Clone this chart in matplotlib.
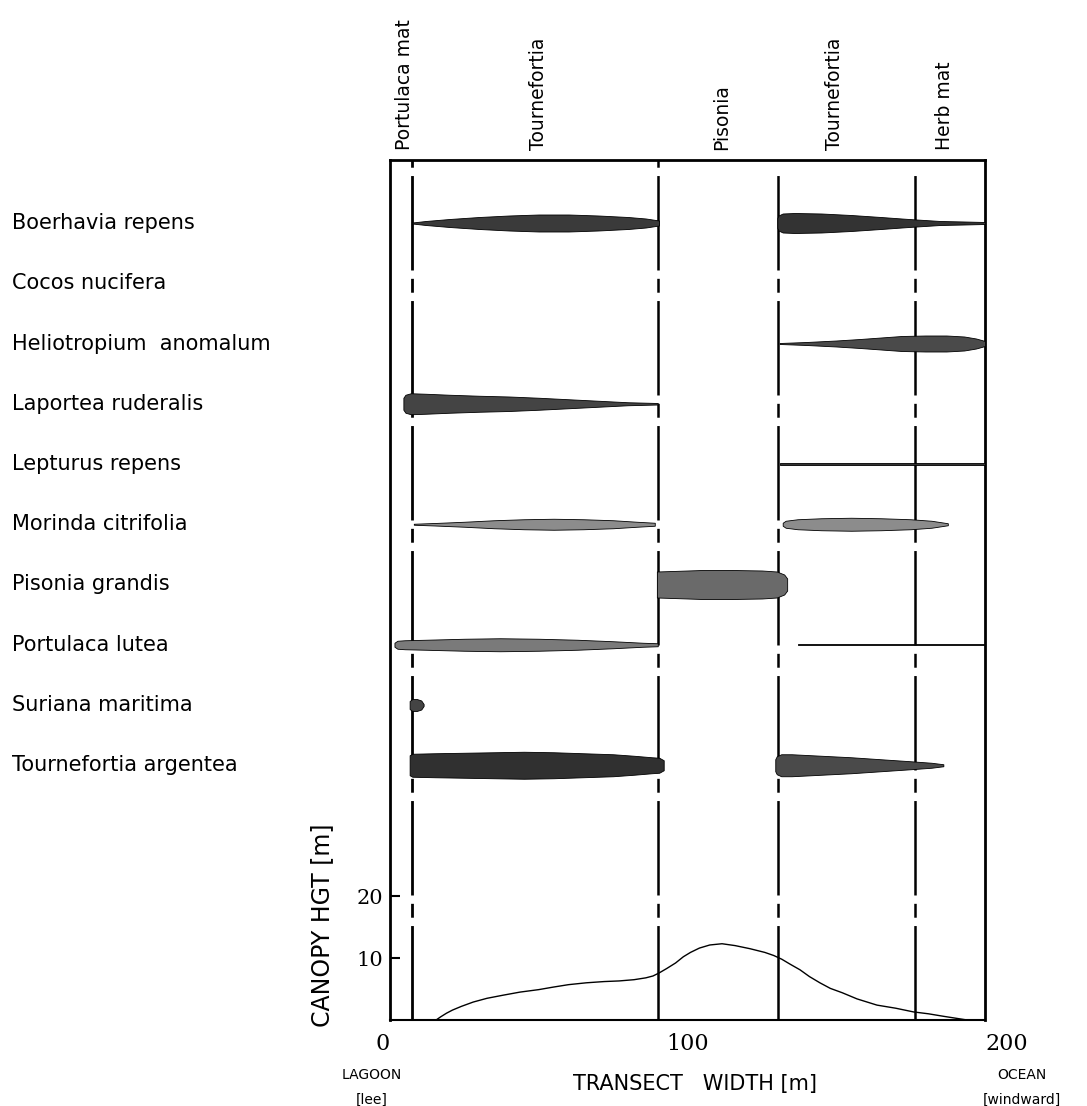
import numpy as np
import matplotlib
matplotlib.use("Agg")
import matplotlib.pyplot as plt
from matplotlib.transforms import blended_transform_factory

plt.rcParams["font.family"] = ["DejaVu Sans"]
plt.rcParams["lines.scale_dashes"] = False

# ---- data -----------------------------------------------------------------
species = ["Boerhavia repens", "Cocos nucifera", "Heliotropium  anomalum",
           "Laportea ruderalis", "Lepturus repens", "Morinda citrifolia",
           "Pisonia grandis", "Portulaca lutea", "Suriana maritima",
           "Tournefortia argentea"]

zone_names = ["Portulaca mat", "Tournefortia", "Pisonia", "Tournefortia", "Herb mat"]
zone_label_x = [5, 50, 111.5, 149.5, 186.5]
zone_bounds = [7.3, 90.2, 130.5, 176.5]

# band thickness along the transect (x in m, thickness in relative cover units)
boer_x1 = [7.5, 12, 20, 30, 40, 50, 60, 70, 80, 86, 90.4]
boer_t1 = [1, 4, 8, 12, 15, 17, 17, 15, 12, 9, 5]
boer_x2 = [130.2, 130.6, 132, 136, 145, 155, 165, 172, 177, 185, 193, 200]
boer_t2 = [10, 15, 19, 20, 19, 16, 12, 9, 7, 4, 3, 2]

helio_x = [131, 140, 150, 158, 165, 172, 180, 187, 193, 197, 200]
helio_t = [1, 3, 6, 9, 12, 15, 16, 16, 14, 10, 5]

lapo_x = [4.5, 5.2, 7, 12, 20, 30, 40, 50, 60, 70, 80, 90]
lapo_t = [12, 18, 21, 20, 18, 16, 14.5, 12, 9, 6, 3, 1.5]

lept_x = [131, 200]
lept_t = [1.3, 1.3]

mori_x1 = [8, 15, 25, 35, 45, 55, 65, 75, 83, 89]
mori_t1 = [1, 2.5, 5, 8, 10, 11, 10, 8, 5, 3]
mori_x2 = [132, 133, 137, 145, 155, 165, 175, 182, 187.5]
mori_t2 = [3, 7, 10, 12, 13, 12, 10, 7, 2]

piso_x = [89.7, 95, 105, 115, 125, 130, 132.5, 133.5]
piso_t = [26, 27, 29, 29, 28, 26, 20, 12]

port_x1 = [1.5, 2.5, 5, 12, 25, 37, 50, 63, 75, 85, 90]
port_t1 = [4, 8, 9, 10, 12, 13, 12, 10, 7, 4, 3]
port_x2 = [137, 200]
port_t2 = [1.2, 1.2]

suri_x = [6.6, 7.5, 9, 10.5, 11.3]
suri_t = [8, 12, 12, 9, 2]

tour_x1 = [6.6, 7.5, 15, 25, 35, 45, 55, 65, 75, 82, 88, 90.5, 92]
tour_t1 = [20, 23, 24, 25, 26, 27, 26, 24, 22, 19, 16, 15, 10]
tour_x2 = [129.5, 130, 131.5, 135, 145, 155, 165, 175, 182, 186]
tour_t2 = [12, 18, 22, 22, 19, 16, 12, 8, 5, 2]

bands = {
    0: [(boer_x1, boer_t1, "#3a3a3a"), (boer_x2, boer_t2, "#333333")],
    2: [(helio_x, helio_t, "#4a4a4a")],
    3: [(lapo_x, lapo_t, "#444444")],
    4: [(lept_x, lept_t, "#333333")],
    5: [(mori_x1, mori_t1, "#8c8c8c"), (mori_x2, mori_t2, "#8c8c8c")],
    6: [(piso_x, piso_t, "#6a6a6a")],
    7: [(port_x1, port_t1, "#7a7a7a"), (port_x2, port_t2, "#333333")],
    8: [(suri_x, suri_t, "#444444")],
    9: [(tour_x1, tour_t1, "#303030"), (tour_x2, tour_t2, "#4a4a4a")],
}

canopy_x = [15.5, 17, 19, 21, 24, 28, 32.6, 38, 43.7, 50, 54.8, 60, 66, 72,
            77, 82, 86, 88.4, 90.5, 93, 96, 98.6, 101, 104, 107.5, 111.6, 116,
            121, 126, 129, 131.7, 134.5, 137.8, 141, 144.5, 148, 152, 157,
            163.7, 170, 176, 181, 186, 190, 194]
canopy_h = [0, 0.5, 1.1, 1.6, 2.2, 2.9, 3.5, 4.0, 4.5, 4.9, 5.3, 5.7, 6.0, 6.2,
            6.3, 6.5, 6.8, 7.1, 7.6, 8.3, 9.2, 10.2, 10.9, 11.6, 12.1, 12.3,
            12.0, 11.5, 10.9, 10.4, 9.8, 9.0, 8.1, 7.0, 6.0, 5.1, 4.4, 3.4,
            2.4, 1.9, 1.3, 1.0, 0.6, 0.3, 0]

# ---- layout ---------------------------------------------------------------
W, H = 1087, 1106
PX = 6.2                       # pixels per canopy metre
row0 = (1020 - 223) / PX       # first species lane
lane = 60.25 / PX              # lane spacing

fig = plt.figure(figsize=(W / 100, H / 100), dpi=100)
ax = fig.add_axes([390 / W, 1 - 1020 / H, 595 / W, 860 / H])
ax.set_xlim(0, 200)
ax.set_ylim(0, 860 / PX)

lane_y = row0 - lane * np.arange(len(species))

# species bands
for i, segs in bands.items():
    for xs, ts, col in segs:
        half = np.asarray(ts) / PX / 2
        ax.fill_between(xs, lane_y[i] - half, lane_y[i] + half,
                        facecolor=col, edgecolor="black", lw=0.6, zorder=3)

# zone boundaries
dash = (68, 6, 10, 6)
for k, xb in enumerate(zone_bounds):
    top = 1.0 if k < 2 else 0.99
    ax.axvline(xb, 0, top, color="black", lw=2.0 if k == 0 else 1.8,
               dashes=dash, dash_capstyle="butt", zorder=2)

# canopy height profile
ax.plot(canopy_x, canopy_h, color="black", lw=1.0, zorder=4)

# species names
tr = blended_transform_factory(fig.transFigure, ax.transData)
for i, name in enumerate(species):
    ax.text(12 / W, lane_y[i], name, transform=tr, ha="left", va="center",
            fontsize=15)

# zone names above the frame
trz = blended_transform_factory(ax.transData, ax.transAxes)
for xz, nm in zip(zone_label_x, zone_names):
    ax.text(xz, 1.012, nm, transform=trz, rotation=90, ha="center",
            va="bottom", fontsize=13.5)

# axes styling
for side in ["left", "right", "top"]:
    ax.spines[side].set_linewidth(2.0)
ax.spines["bottom"].set_linewidth(1.5)

ax.set_yticks([10, 20])
ax.tick_params(axis="y", direction="in", length=7, width=1.5, labelsize=15,
               pad=5)
ax.set_xticks([0, 100, 200])
ax.tick_params(axis="x", length=0, labelsize=16, pad=9)
for lbl in ax.get_yticklabels() + ax.get_xticklabels():
    lbl.set_family("DejaVu Serif")
xl = ax.get_xticklabels()
xl[0].set_ha("right")
xl[2].set_ha("left")

ax.text((322 - 390) / 595, (1020 - 925) / 860, "CANOPY HGT [m]",
        transform=ax.transAxes, rotation=90, ha="center", va="center",
        fontsize=17)

trx = blended_transform_factory(ax.transData, fig.transFigure)
ax.text(102.5, 1 - 1084 / H, "TRANSECT   WIDTH [m]", transform=trx,
        ha="center", va="center", fontsize=15)
fig.text(372 / W, 1 - 1075 / H, "LAGOON", ha="center", va="center", fontsize=10)
fig.text(372 / W, 1 - 1100 / H, "[lee]", ha="center", va="center", fontsize=10)
fig.text(1022 / W, 1 - 1075 / H, "OCEAN", ha="center", va="center", fontsize=10)
fig.text(1022 / W, 1 - 1100 / H, "[windward]", ha="center", va="center",
         fontsize=10)

fig.savefig("out.png", dpi=100)
